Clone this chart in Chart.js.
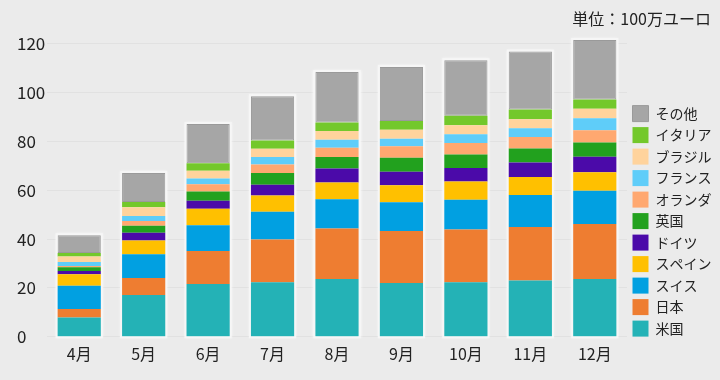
<!DOCTYPE html>
<html><head><meta charset="utf-8">
<script src="https://cdn.jsdelivr.net/npm/chart.js@4/dist/chart.umd.min.js"></script>
<style>
html,body{margin:0;padding:0;background:#ebebeb;}
#wrap{width:720px;height:380px;position:relative;}
</style></head>
<body><div id="wrap"><canvas id="c" width="720" height="380"></canvas></div>
<script>
const months = ['4月','5月','6月','7月','8月','9月','10月','11月','12月'];
const seriesNames = ['米国','日本','スイス','スペイン','ドイツ','英国','オランダ','フランス','ブラジル','イタリア','その他'];
const usa     = [7.9, 17.1, 21.6, 22.3, 23.7, 22.0, 22.3, 23.0, 23.7];
const japan   = [3.5, 7.0, 13.5, 17.5, 20.6, 21.3, 21.6, 22.0, 22.5];
const swiss   = [9.5, 9.7, 10.6, 11.4, 12.0, 11.8, 12.2, 13.1, 13.6];
const spain   = [4.7, 5.6, 6.7, 6.7, 6.9, 6.9, 7.5, 7.3, 7.6];
const germany = [1.3, 3.2, 3.3, 4.4, 5.7, 5.6, 5.5, 6.0, 6.3];
const uk      = [1.6, 2.9, 3.8, 4.8, 4.7, 5.7, 5.5, 5.7, 5.9];
const nether  = [0.5, 1.9, 3.0, 3.4, 3.8, 4.7, 4.7, 4.7, 5.0];
const france  = [1.6, 2.1, 2.3, 3.1, 3.3, 3.1, 3.6, 3.6, 4.9];
const brazil  = [2.3, 3.5, 3.2, 3.4, 3.6, 3.7, 3.7, 3.7, 3.9];
const italy   = [1.4, 2.2, 3.1, 3.4, 3.4, 3.6, 3.9, 4.0, 3.8];
const others  = [7.3, 11.9, 16.0, 18.1, 20.7, 22.1, 22.7, 23.7, 24.3];
const yTicks  = [0, 20, 40, 60, 80, 100, 120];
const unitLabel = '単位：100万ユーロ';

const seriesValues = [usa, japan, swiss, spain, germany, uk, nether, france, brazil, italy, others];
const colors  = ['#24b2b6','#ee7d31','#01a0e1','#ffc000','#4b0aa9','#22a11e','#ffa870','#5fcdf9','#ffd39c','#73c82b','#a6a6a6'];
const borders = ['#24b2b6','#ee7d31','#01a0e1','#ffc000','#4b0aa9','#22a11e','#ffa870','#5fcdf9','#ffd39c','#73c82b','#9a9a9a'];
const borderWidths = [0,0,0,0,0,0,0,0,0,0,1];

const FONT = '"Noto Sans CJK JP", "Noto Sans", sans-serif';

const stackOutline = {
  id: 'stackOutline',
  beforeDatasetsDraw(chart) {
    const ctx = chart.ctx;
    const n = chart.data.labels.length;
    for (let i = 0; i < n; i++) {
      let top = Infinity, bottom = -Infinity, x = null, w = null;
      chart.data.datasets.forEach((ds, d) => {
        const meta = chart.getDatasetMeta(d);
        if (!meta.visible) return;
        const el = meta.data[i];
        if (!el) return;
        const p = el.getProps(['x','y','base','width'], true);
        top = Math.min(top, p.y, p.base);
        bottom = Math.max(bottom, p.y, p.base);
        x = p.x; w = p.width;
      });
      if (x === null) continue;
      ctx.save();
      ctx.shadowColor = 'rgba(255,255,255,0.8)';
      ctx.shadowBlur = 3;
      ctx.fillStyle = '#f6f6f6';
      ctx.fillRect(x - w/2 - 2, top - 2, w + 4, bottom - top + 4);
      ctx.restore();
    }
  }
};

new Chart(document.getElementById('c'), {
  type: 'bar',
  data: {
    labels: months,
    datasets: seriesNames.map((name, k) => ({
      label: name,
      data: seriesValues[k],
      backgroundColor: colors[k],
      borderColor: borders[k],
      borderWidth: borderWidths[k],
      borderSkipped: false,
      categoryPercentage: 1,
      barPercentage: 0.67
    }))
  },
  options: {
    responsive: false,
    animation: false,
    devicePixelRatio: 1,
    layout: { padding: { top: 0, right: 9, bottom: 8, left: 17 } },
    scales: {
      x: {
        stacked: true,
        grid: { display: false, drawTicks: false },
        border: { display: false },
        ticks: { color: '#222', font: { family: FONT, size: 16 }, padding: 8 }
      },
      y: {
        stacked: true,
        min: 0,
        max: 125,
        afterFit(s) { s.width = 30; },
        afterBuildTicks(s) { s.ticks = yTicks.map(v => ({ value: v })); },
        grid: { color: '#e1e1e1', drawTicks: false, lineWidth: 1 },
        border: { display: false },
        ticks: { color: '#222', crossAlign: 'far', padding: 2, font: { family: FONT, size: 17 } }
      }
    },
    plugins: {
      title: {
        display: true,
        text: unitLabel,
        align: 'end',
        color: '#222',
        font: { family: FONT, size: 16, weight: 'normal' },
        padding: { top: 9, bottom: 3.3 }
      },
      legend: {
        position: 'right',
        reverse: true,
        maxWidth: 84,
        align: 'center',
        title: { display: true, text: '', padding: { top: 0, bottom: 0 }, font: { size: 58.5, family: FONT } },
        labels: {
          color: '#222',
          boxWidth: 16,
          boxHeight: 16,
          padding: 5.5,
          font: { family: FONT, size: 14 }
        }
      },
      tooltip: { enabled: false }
    }
  },
  plugins: [stackOutline]
});
</script>
</body></html>
